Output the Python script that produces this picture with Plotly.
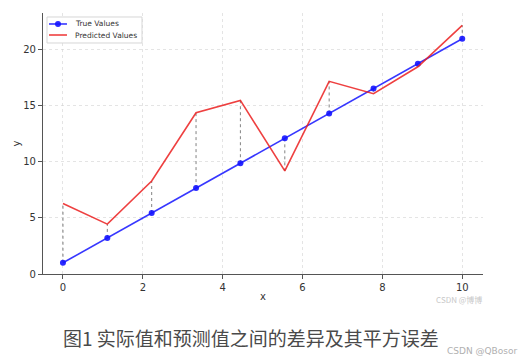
import numpy as np
import plotly.graph_objects as go

x_vals = [0.0, 1.111, 2.222, 3.333, 4.444, 5.556, 6.667, 7.778, 8.889, 10.0]
true_vals = [1.0, 3.222, 5.444, 7.667, 9.889, 12.111, 14.333, 16.556, 18.778, 21.0]
pred_vals = [6.3, 4.45, 8.3, 14.4, 15.5, 9.2, 17.2, 16.1, 18.5, 22.2]
x_ticks = [0, 2, 4, 6, 8, 10]
y_ticks = [0, 5, 10, 15, 20]
series_names = ["True Values", "Predicted Values"]

BLUE = "rgba(20,20,255,0.85)"
RED = "rgba(235,30,30,0.85)"

# connecting segments between true and predicted values
seg_x, seg_y = [], []
for xv, tv, pv in zip(x_vals, true_vals, pred_vals):
    seg_x += [xv, xv, None]
    seg_y += [tv, pv, None]

fig = go.Figure()
fig.add_trace(go.Scatter(x=seg_x, y=seg_y, mode="lines",
                         line=dict(color="rgba(90,90,90,0.75)", width=1, dash="dot"),
                         showlegend=False, hoverinfo="skip"))
fig.add_trace(go.Scatter(x=x_vals, y=true_vals, mode="lines+markers", name=series_names[0],
                         line=dict(color=BLUE, width=1.6), showlegend=False,
                         marker=dict(color="rgba(20,20,255,0.9)", size=6)))
fig.add_trace(go.Scatter(x=x_vals, y=pred_vals, mode="lines", name=series_names[1],
                         line=dict(color=RED, width=1.6), showlegend=False))

axis_common = dict(showline=True, linecolor="#555", linewidth=1.2, ticks="outside",
                   ticklen=4, tickcolor="#555", tickfont=dict(size=10, color="#333"),
                   showgrid=True, gridcolor="rgba(205,205,205,0.55)", griddash="dot",
                   gridwidth=1, zeroline=False, mirror=False, automargin=False)

# compact matplotlib-style legend box (paper coordinates)
shapes = [
    dict(type="rect", xref="paper", yref="paper", x0=0.0091, x1=0.225, y0=0.8851, y1=0.9847,
         line=dict(color="rgba(215,215,215,1)", width=1), fillcolor="rgba(255,255,255,0.9)",
         layer="above"),
    dict(type="line", xref="paper", yref="paper", x0=0.0136, x1=0.0545, y0=0.9579, y1=0.9579,
         line=dict(color=BLUE, width=1.6), layer="above"),
    dict(type="circle", xref="paper", yref="paper", x0=0.0273, x1=0.0409, y0=0.9464, y1=0.9693,
         line=dict(color=BLUE, width=0), fillcolor="rgba(20,20,255,0.9)", layer="above"),
    dict(type="line", xref="paper", yref="paper", x0=0.0136, x1=0.0545, y0=0.9157, y1=0.9157,
         line=dict(color=RED, width=1.6), layer="above"),
]
legend_texts = [
    dict(text=series_names[0], xref="paper", yref="paper", x=0.0682, y=0.9579,
         xanchor="left", yanchor="middle", showarrow=False,
         font=dict(family="DejaVu Sans", size=7.5, color="#333")),
    dict(text=series_names[1], xref="paper", yref="paper", x=0.0682, y=0.9157,
         xanchor="left", yanchor="middle", showarrow=False,
         font=dict(family="DejaVu Sans", size=7.5, color="#333")),
]

fig.update_layout(
    width=523, height=362,
    margin=dict(l=43, r=40, t=13, b=88),
    paper_bgcolor="white", plot_bgcolor="white",
    font=dict(family="DejaVu Sans", color="#333"),
    showlegend=False,
    xaxis=dict(range=[-0.5, 10.52], tickvals=x_ticks,
               title=dict(text="x", font=dict(size=10, color="#333"), standoff=0), **axis_common),
    yaxis=dict(range=[0, 23.3], tickvals=y_ticks,
               title=dict(text="y", font=dict(size=10, color="#333"), standoff=0), **axis_common),
    shapes=shapes,
    annotations=legend_texts + [
        dict(text="图1 实际值和预测值之间的差异及其平方误差", xref="paper", yref="paper",
             x=0.473, y=-0.245, xanchor="center", yanchor="middle", showarrow=False,
             font=dict(family="Noto Sans CJK SC", size=19, color="#4a4a4a")),
        dict(text="CSDN @QBosor", xref="paper", yref="paper", x=1.082, y=-0.295,
             xanchor="right", yanchor="middle", showarrow=False,
             font=dict(family="DejaVu Sans", size=9, color="#b0b0b0")),
        dict(text="CSDN @博博", xref="paper", yref="paper", x=1.002, y=-0.097,
             xanchor="right", yanchor="middle", showarrow=False,
             font=dict(family="Noto Sans CJK SC", size=8, color="#c8c8c8")),
    ],
)

fig.write_html("out.html", config={"displayModeBar": False},
               post_script="document.body.style.margin='0';document.body.style.overflow='hidden';")
